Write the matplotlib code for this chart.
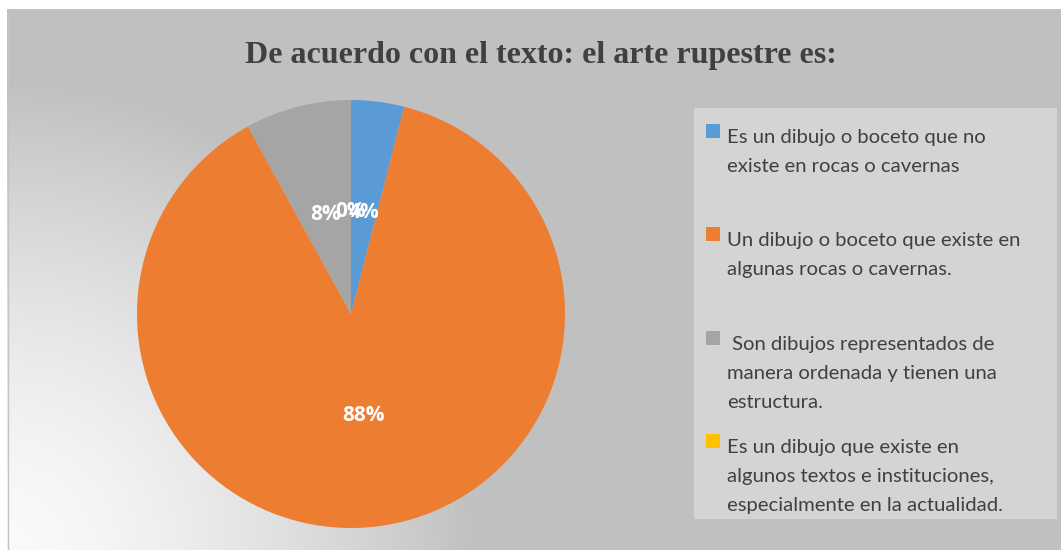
import numpy as np
import matplotlib
matplotlib.use('Agg')
import matplotlib.pyplot as plt
from matplotlib.patches import Rectangle

# data
titulo = 'De acuerdo con el texto: el arte rupestre es:'
respuestas = [
    'Es un dibujo o boceto que no\nexiste en rocas o cavernas',
    'Un dibujo o boceto que existe en\nalgunas rocas o cavernas.',
    ' Son dibujos representados de\nmanera ordenada y tienen una\nestructura.',
    'Es un dibujo que existe en\nalgunos textos e instituciones,\nespecialmente en la actualidad.',
]
porcentajes = [4, 88, 8, 0]
colores = ['#5B9BD5', '#ED7D31', '#A5A5A5', '#FFC000']

W, H = 1061, 550
fig = plt.figure(figsize=(W / 100, H / 100), dpi=100)
fig.patch.set_facecolor('white')

# background axes in pixel coordinates
bg = fig.add_axes([0, 0, 1, 1])
bg.set_xlim(0, W)
bg.set_ylim(H, 0)
bg.axis('off')

# radial gradient from bottom-left corner
xx, yy = np.meshgrid(np.arange(7, W), np.arange(9, H))
d = np.hypot(xx - 7, yy - H)
t = np.clip(d / 470.0, 0, 1)
v = (250 - 58 * t ** 1.5) / 255.0
img = np.dstack([v, v, v])
bg.imshow(img, extent=[7, W, H, 9], origin='upper', zorder=0, aspect='auto')
bg.add_patch(Rectangle((7.5, 9.5), W, H, fill=False, edgecolor='#c4c4c4', lw=1, zorder=1))

bg.text(541, 63, titulo, ha='center', va='baseline', fontsize=23,
        fontweight='bold', family='Liberation Serif', color='#404040', zorder=3)

# legend box
bg.add_patch(Rectangle((694, 108), 363, 411, facecolor='#d4d4d4', edgecolor='none', zorder=2))
baselines = [143, 246, 350, 453]
for lab, col, b in zip(respuestas, colores, baselines):
    bg.add_patch(Rectangle((706, b - 19), 14, 14, facecolor=col, edgecolor='none', zorder=3))
    for k, line in enumerate(lab.split('\n')):
        bg.text(727, b + 29 * k, line, ha='left', va='baseline', fontsize=14.6,
                family='Lato', color='#404040', zorder=3)

# pie
cx, cy, r = 351, 314, 214
ax = fig.add_axes([(cx - r) / W, (H - cy - r) / H, 2 * r / W, 2 * r / H])
wedges, texts, autotexts = ax.pie(porcentajes, colors=colores, startangle=90,
                                  counterclock=False, autopct='%1.0f%%',
                                  pctdistance=0.48,
                                  textprops=dict(color='white', fontsize=15,
                                                 fontweight='bold', family='Open Sans'))
ax.set_xlim(-1, 1)
ax.set_ylim(-1, 1)
ax.set_aspect('equal')
ax.axis('off')

fig.savefig('out.png', dpi=100)
